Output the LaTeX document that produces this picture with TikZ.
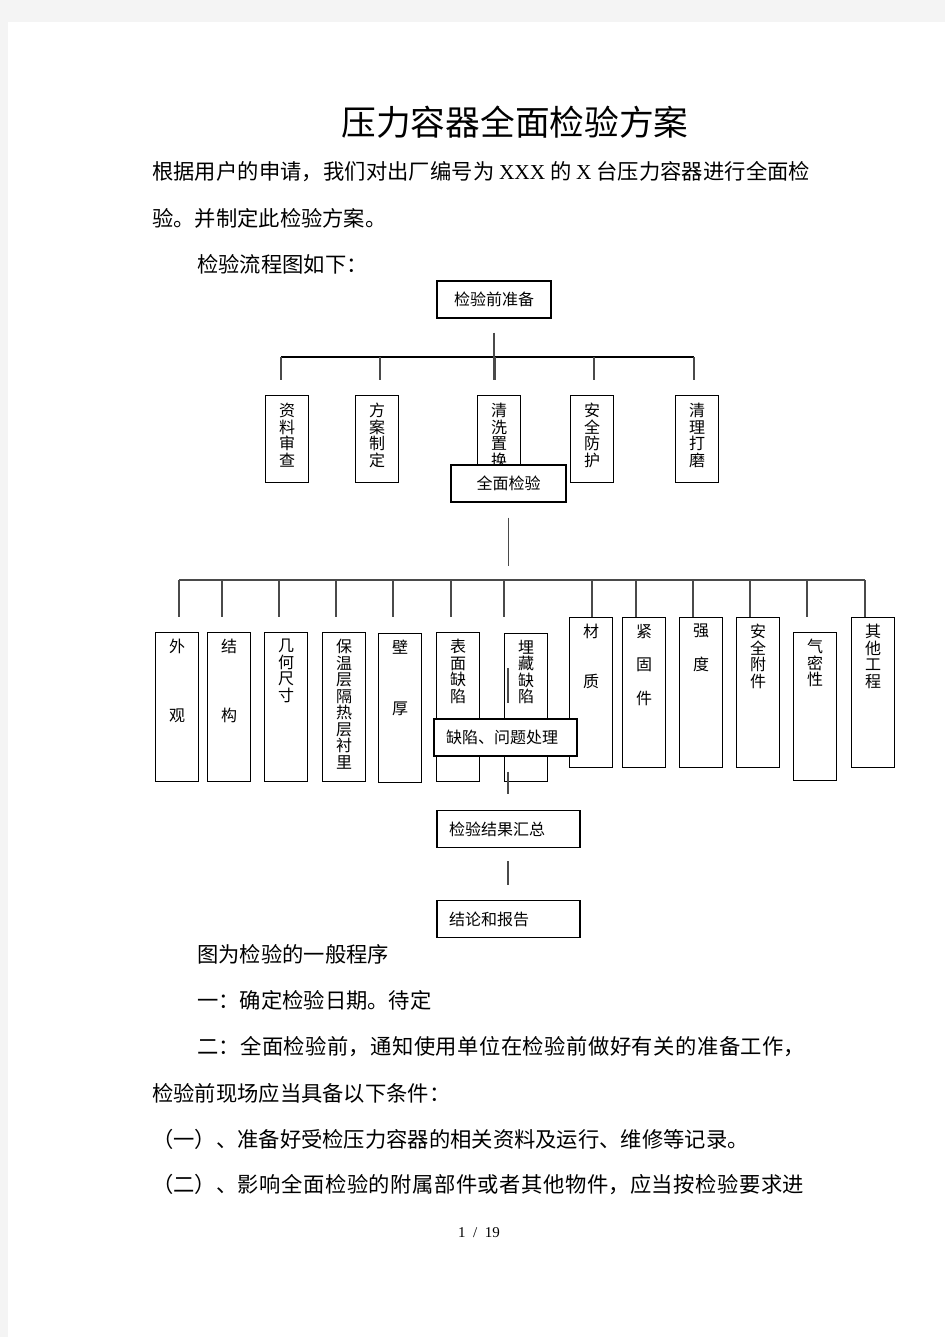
\documentclass[tikz,border=0pt]{standalone}
\usepackage{fontspec}
\setmainfont{Noto Sans CJK SC}
\newfontfamily\lat{Liberation Serif}
\usetikzlibrary{positioning}
\definecolor{pagegray}{HTML}{F4F4F4}
\definecolor{treegray}{HTML}{4A4A4A}

\tikzset{
  txt/.style={anchor=west, inner sep=0, font=\fontsize{21.3}{21.3}\selectfont},
  jtxt/.style={txt, text width=#1, align=justify,
    execute at begin node={\XeTeXlinebreaklocale "zh"\XeTeXlinebreakskip=0pt plus 6pt minus 1pt\parfillskip=0pt\relax}},
  hbox/.style={draw, fill=white, line width=1.2, minimum height=37, inner sep=0,
    font=\fontsize{16}{16}\selectfont},
  lbox/.style={hbox, align=left, text width=119, inner xsep=12},
  vbox/.style={draw, line width=1.2, anchor=north west, minimum width=43, minimum height=#1, inner sep=0},
  vtxt/.style={anchor=north, inner sep=0, align=center, font=\fontsize{16}{16.5}\selectfont},
  tree/.style={treegray, line width=1.3},
}

\begin{document}
\begin{tikzpicture}[x=1pt, y=-1pt]
  % page
  \useasboundingbox (0,0) rectangle (945,1337);
  \fill[pagegray] (0,0) rectangle (945,1337);
  \fill[white] (8,22) rectangle (945,1337);

  % heading and text above the chart
  \node[font=\fontsize{34.7}{34.7}\selectfont, inner sep=0] (title) at (515,122) {压力容器全面检验方案};
  \node[jtxt=658] (p1) at (152,172) {根据用户的申请，我们对出厂编号为 {\lat XXX} 的 {\lat X} 台压力容器进行全面检};
  \node[txt] (p2) at (152,218) {验。并制定此检验方案。};
  \node[txt] (p3) at (197,264) {检验流程图如下：};

  % preparation
  \node[hbox, minimum width=114] (prep) at (494,299.5) {检验前准备};
  \coordinate (bar1l) at (281,357);
  \coordinate (bar1r) at (694,357);
  \draw[line width=2.5] (bar1l) -- (bar1r);
  \foreach \nm/\lx/\tx/\dx in {pa/265/{资\\料\\审\\查}/281, pb/355/{方\\案\\制\\定}/380,
      pc/477/{清\\洗\\置\\换}/495, pd/570/{安\\全\\防\\护}/594, pe/675/{清\\理\\打\\磨}/694}{
    \node[vbox=87] (\nm) at (\lx,395) {};
    \node[vtxt, below=8pt of \nm.north] (\nm-t) {\tx};
    \coordinate (\nm-d) at (\dx,357);
    \draw[tree, shorten >=15pt] (\nm-d) -- (\nm-d |- \nm.north);
  }
  \draw[tree, shorten <=14pt, shorten >=15pt] (prep.south) -- (prep.south |- pc.north);

  % full inspection
  \node[hbox, minimum width=115] (full) at (508.5,483.5) {全面检验};
  \coordinate (bar2l) at (179,580);
  \coordinate (bar2r) at (865,580);
  \draw[tree] (bar2l) -- (bar2r);
  \draw[tree, shorten <=15pt, shorten >=14pt] (full.south) -- (full.south |- bar2l);
  \foreach \nm/\lx/\ty/\hh/\tx/\dx/\gp in {
      qa/155/632/149/{外\\[52pt]观}/179/15,
      qb/207/632/149/{结\\[52pt]构}/222/15,
      qc/264/632/149/{几\\何\\尺\\寸}/279/15,
      qd/322/632/149/{保\\温\\层\\隔\\热\\层\\衬\\里}/336/15,
      qe/378/633/149/{壁\\[44pt]厚}/393/16,
      qf/436/632/149/{表\\面\\缺\\陷}/451/15,
      qg/504/633/148/{埋\\藏\\缺\\陷}/504/16,
      qh/569/617/150/{材\\[33pt]质}/592/0,
      qi/622/617/150/{紧\\[17pt]固\\[17pt]件}/636/0,
      qj/679/617/150/{强\\[17pt]度}/693/0,
      qk/736/617/150/{安\\全\\附\\件}/750/0,
      ql/793/632/148/{气\\密\\性}/807/15,
      qm/851/617/150/{其\\他\\工\\程}/865/0}{
    \node[vbox=\hh] (\nm) at (\lx,\ty) {};
    \node[vtxt, below=7pt of \nm.north] (\nm-t) {\tx};
    \coordinate (\nm-d) at (\dx,580);
    \draw[tree, shorten >=\gp pt] (\nm-d) -- (\nm-d |- \nm.north);
  }

  % defects, summary, report
  \node[lbox] (defect) at (505.5,737.5) {缺陷、问题处理};
  \coordinate (dtop) at (508,668);
  \draw[tree, shorten >=15pt] (dtop) -- (dtop |- defect.north);
  \node[lbox] (sum) at (508.5,829) {检验结果汇总};
  \node[lbox] (concl) at (508.5,919) {结论和报告};
  \draw[tree, shorten <=15pt, shorten >=16pt] (defect.south -| dtop) -- (sum.north -| dtop);
  \draw[tree, shorten <=13pt, shorten >=15pt] (sum.south -| dtop) -- (concl.north -| dtop);

  % text below the chart
  \node[txt] (p4) at (197,954) {图为检验的一般程序};
  \node[txt] (p5) at (197,1000) {一：确定检验日期。待定};
  \node[jtxt=608] (p6) at (197,1047) {二：全面检验前，通知使用单位在检验前做好有关的准备工作，};
  \node[txt] (p7) at (152,1093) {检验前现场应当具备以下条件：};
  \node[txt] (p8) at (152,1139) {（一）、准备好受检压力容器的相关资料及运行、维修等记录。};
  \node[jtxt=652] (p9) at (152,1185) {（二）、影响全面检验的附属部件或者其他物件，应当按检验要求进};
  \node[font=\lat\fontsize{15}{15}\selectfont, inner sep=0] (pg) at (479,1233) {1\ \ /\ \ 19};
\end{tikzpicture}
\end{document}
